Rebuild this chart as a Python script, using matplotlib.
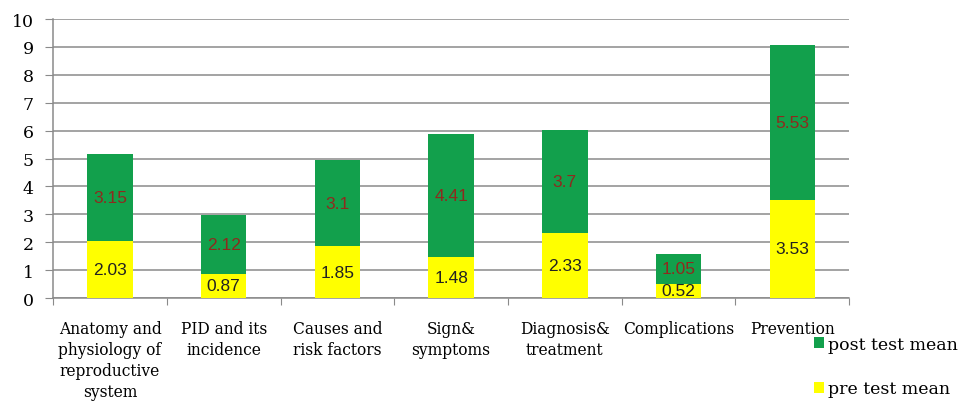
import matplotlib

matplotlib.use("Agg")

import matplotlib.pyplot as plt
import numpy as np
from matplotlib.patches import Patch

categories = [
    "Anatomy and\nphysiology of\nreproductive\nsystem",
    "PID and its\nincidence",
    "Causes and\nrisk factors",
    "Sign&\nsymptoms",
    "Diagnosis&\ntreatment",
    "Complications",
    "Prevention",
]
pre_test_mean = [2.03, 0.87, 1.85, 1.48, 2.33, 0.52, 3.53]
post_test_mean = [3.15, 2.12, 3.1, 4.41, 3.7, 1.05, 5.53]

GREEN = "#12A04C"
YELLOW = "#FFFF00"
LABEL_RED = "#8E2A1E"
SERIF = "DejaVu Serif"
SANS = "Liberation Sans"

fig = plt.figure(figsize=(9.66, 4.02), dpi=100)
ax = fig.add_axes([0.055, 0.256, 0.824, 0.694])

x = np.arange(len(categories))
pre = np.array(pre_test_mean)
post = np.array(post_test_mean)

ax.bar(x, pre, width=0.4, color=YELLOW, zorder=3)
ax.bar(x, post, width=0.4, bottom=pre, color=GREEN, zorder=3)

for xi, p, q in zip(x, pre, post):
    ax.text(xi, p / 2, f"{p:g}", ha="center", va="center", fontsize=12.5,
            family=SANS, color="#222222", zorder=4)
    ax.text(xi, p + q / 2, f"{q:g}", ha="center", va="center", fontsize=12.5,
            family=SANS, color=LABEL_RED, zorder=4)

ax.set_xlim(-0.5, len(categories) - 0.5)
ax.set_ylim(0, 10)
ax.set_yticks(range(0, 11))
ax.yaxis.grid(True, color="#8a8a8a", linewidth=1.1, zorder=0)
ax.set_axisbelow(True)

for side in ("top", "right"):
    ax.spines[side].set_visible(False)
for side in ("left", "bottom"):
    ax.spines[side].set_color("#8a8a8a")
    ax.spines[side].set_linewidth(1.1)

# category boundary ticks on the x axis, labels at the centres
ax.set_xticks(np.arange(len(categories) + 1) - 0.5)
ax.set_xticklabels([])
ax.set_xticks(x, minor=True)
ax.set_xticklabels(categories, minor=True, family=SERIF, fontsize=11.2,
                   linespacing=1.3)
ax.tick_params(axis="x", which="minor", length=0, pad=16)
ax.tick_params(axis="x", which="major", length=5, color="#8a8a8a", direction="out")
ax.tick_params(axis="y", length=6, color="#8a8a8a", pad=8)
for lab in ax.get_yticklabels():
    lab.set_family(SERIF)
    lab.set_fontsize(12.5)

handles = [Patch(facecolor=GREEN), Patch(facecolor=YELLOW)]
fig.legend(handles, ["post test mean", "pre test mean"], loc="upper left",
           bbox_to_anchor=(0.835, 0.18), frameon=False,
           prop={"family": SERIF, "size": 12.5}, handlelength=0.6,
           handleheight=0.6, handletextpad=0.25, labelspacing=1.6,
           borderaxespad=0)

fig.savefig("out.png", dpi=100)
